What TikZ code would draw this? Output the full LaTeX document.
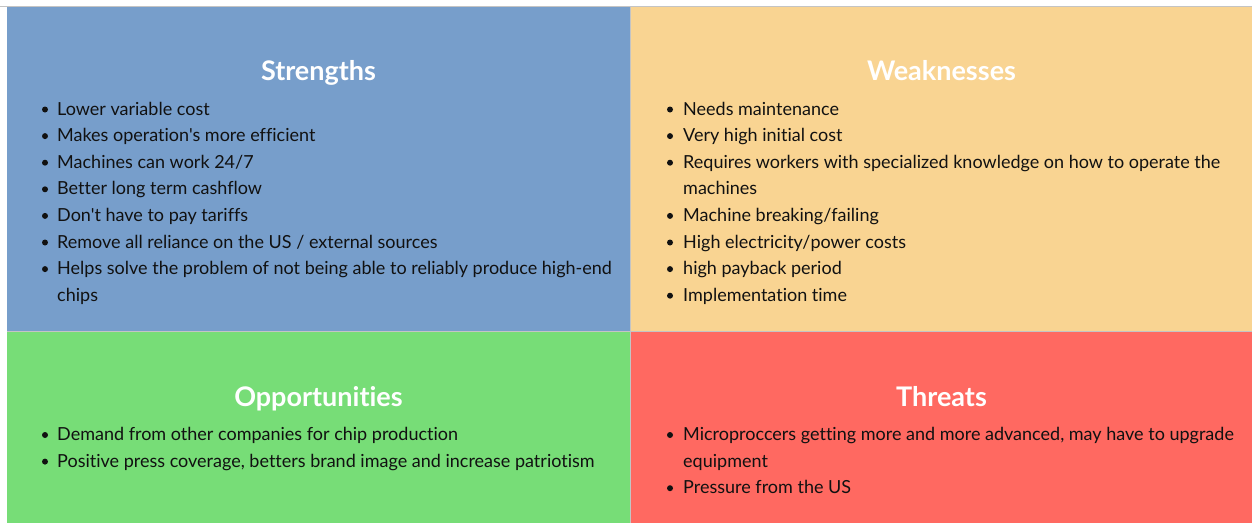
\documentclass[tikz,border=0pt]{standalone}
\usepackage{fontspec}
\setmainfont{Lato}[Ligatures={TeXOff,NoCommon}]
\definecolor{pblue}{RGB}{119,158,203}
\definecolor{porange}{RGB}{249,212,146}
\definecolor{pgreen}{RGB}{119,221,119}
\definecolor{pred}{RGB}{255,105,97}
\definecolor{rulegray}{RGB}{196,196,196}
\definecolor{ink}{RGB}{17,17,17}
\begin{document}
\begin{tikzpicture}[x=1pt,y=-1pt,
  title/.style={font=\bfseries\fontsize{27}{32}\selectfont, text=white, anchor=base, inner sep=0pt},
  item/.style={font=\fontsize{18}{26.6}\selectfont, text=ink, anchor=base west, inner sep=0pt},
  bullet/.style={fill=ink}]
\useasboundingbox (0,0) rectangle (1252,523);
\fill[white] (0,0) rectangle (1252,523);
% quadrant backgrounds
\fill[pblue]   (7,7)       rectangle (630.5,331.5);
\fill[porange] (630.5,7)   rectangle (1252,331.5);
\fill[pgreen]  (7,331.5)   rectangle (630.5,523);
\fill[pred]    (630.5,331.5) rectangle (1252,523);
% separating rules
\draw[rulegray, line width=1.2pt] (0,6.6) -- (1252,6.6);
\draw[rulegray, line width=1pt] (630.5,7) -- (630.5,523);
\draw[rulegray, line width=1pt] (7,331.5) -- (1252,331.5);
% titles
\node[title] (tS) at (318.5,80.5) {Strengths};
\node[title] (tW) at (941.5,80.5) {Weaknesses};
\node[title] (tO) at (318.5,406) {Opportunities};
\node[title] (tT) at (941.5,406) {Threats};
% Strengths
\foreach \d/\t [count=\i] in {1/Lower variable cost, 1/Makes operation's more efficient,
  1/{Machines can work 24\slash 7}, 1/Better long term cashflow, 1/Don't have to pay tariffs,
  1/{Remove all reliance on the US \slash\ external sources},
  1/Helps solve the problem of not being able to reliably produce high-end, 0/chips}{
  \node[item] (s\i) at (57,{115+26.6*(\i-1)}) {\t};
  \ifnum\d=1 \fill[bullet] (45,{109.5+26.6*(\i-1)}) circle (3); \fi
}
% Weaknesses
\foreach \d/\t [count=\i] in {1/Needs maintenance, 1/Very high initial cost,
  1/Requires workers with specialized knowledge on how to operate the, 0/machines,
  1/{Machine breaking\slash failing}, 1/{High electricity\slash power costs},
  1/high payback period, 1/Implementation time}{
  \node[item] (w\i) at (683,{115+26.6*(\i-1)}) {\t};
  \ifnum\d=1 \fill[bullet] (670,{109.5+26.6*(\i-1)}) circle (3); \fi
}
% Opportunities
\foreach \d/\t [count=\i] in {1/Demand from other companies for chip production,
  1/{Positive press coverage, betters brand image and increase patriotism}}{
  \node[item] (o\i) at (57,{440.5+26.6*(\i-1)}) {\t};
  \ifnum\d=1 \fill[bullet] (45,{435+26.6*(\i-1)}) circle (3); \fi
}
% Threats
\foreach \d/\t [count=\i] in {1/{Microproccers getting more and more advanced, may have to upgrade},
  0/equipment, 1/Pressure from the US}{
  \node[item] (t\i) at (683,{440.5+26.6*(\i-1)}) {\t};
  \ifnum\d=1 \fill[bullet] (670,{435+26.6*(\i-1)}) circle (3); \fi
}
\end{tikzpicture}
\end{document}
